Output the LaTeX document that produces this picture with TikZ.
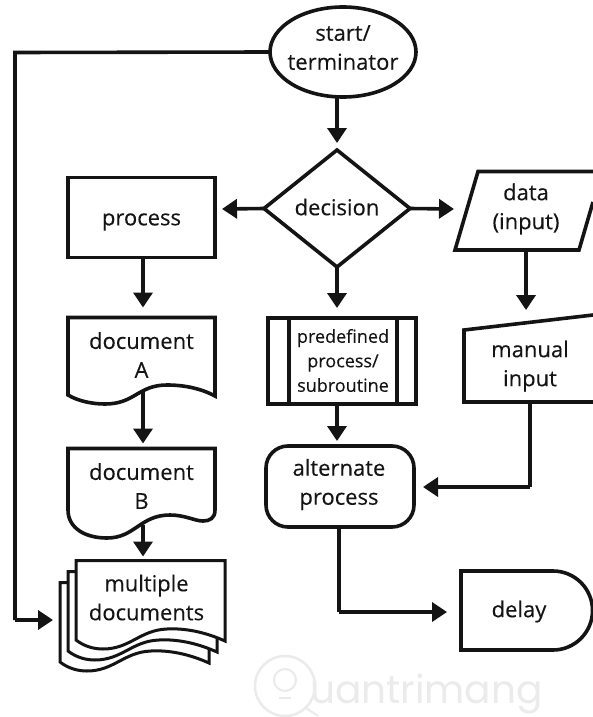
\documentclass[tikz,border=0pt]{standalone}
\usepackage{fontspec}
\setmainfont[FakeBold=0.2]{Open Sans}
\newfontfamily\wmfont{Poppins}
\usetikzlibrary{arrows.meta,shapes.geometric}
\definecolor{ink}{HTML}{141414}
\definecolor{wm}{HTML}{EBEBEB}
\tikzset{
  x=1pt,y=-1pt,
  line/.style={draw=ink,line width=3.6pt,line join=miter},
  flow/.style={line,-{Triangle[length=15pt,width=19pt]}},
  lbl/.style={text=ink,align=center,inner sep=0pt,outer sep=0pt,font=\fontsize{22}{29}\selectfont},
  boxn/.style={lbl,line,rectangle,fill=white},
  ghost/.style={lbl,rectangle,draw=none},
  small/.style={font=\fontsize{18}{24.5}\selectfont},
}
\begin{document}
\begin{tikzpicture}
\useasboundingbox (0,0) rectangle (593,717);
\fill[white] (0,0) rectangle (593,717);
% watermark
\draw[wm,line width=2.5pt] (285,686) circle (30);
\draw[wm,line width=2pt] (285,680) circle (11);
\draw[wm,line width=2pt] (279,698) -- (291,698);
\draw[wm,line width=2pt] (306,708) -- (318,716);
\node[anchor=base west,text=wm,inner sep=0pt,font=\wmfont\fontsize{39}{45}\selectfont] (wmark) at (310,703) {uantrimang};
% shapes
\node[lbl,line,ellipse,minimum width=146pt,minimum height=90pt] (start) at (343,52) {};
\node[lbl] (starttext) at (343,47.5) {start/\\terminator};
\node[lbl,line,diamond,minimum width=146pt,minimum height=117pt] (dec) at (337,208.5) {};
\node[lbl] (dectext) at (337,207) {decision};
\node[boxn,minimum width=147pt,minimum height=80pt] (proc) at (141.5,217.5) {};
\node[lbl] (proctext) at (141.5,222) {process};
\node[ghost,minimum width=124pt,minimum height=79pt] (data) at (526,209) {data\\(input)};
\draw[line] (593,202) -- (579,250) -- (455,250) -- (478,171.5) -- (593,171.5);
\node[ghost,minimum width=132pt,minimum height=82pt] (manual) at (530,366) {manual\\input};
\draw[line] (593,315) -- (464,330) -- (464,402) -- (593,402);
\node[boxn,minimum width=148pt,minimum height=86pt] (pre) at (342,361) {};
\draw[line] (289,318) -- (289,404) (397,318) -- (397,404);
\node[lbl,small] (pretext) at (343,360.5) {predefined\\process/\\subroutine};
\node[boxn,rounded corners=22pt,minimum width=148pt,minimum height=81pt] (alt) at (340,486.5) {};
\node[lbl] (alttext) at (339,484.5) {alternate\\process};
\node[ghost,minimum width=132pt,minimum height=79pt] (delay) at (519,611.5) {delay};
\draw[line] (553,571) -- (461,571) -- (461,650) -- (553,650) arc (90:-90:39.5 and 39.5) -- cycle;
% documents
\node[ghost,minimum width=147pt,minimum height=78pt] (doca) at (141.5,355) {document\\A};
\draw[line] (68,317.5) -- (215,317.5) -- (215,396) .. controls (200,388) and (183,385) .. (167,385) .. controls (138,385) and (135,404) .. (105,404) .. controls (92,404) and (78,401) .. (68,395) -- cycle;
\node[ghost,minimum width=147pt,minimum height=77pt] (docb) at (141.5,486) {document\\B};
\draw[line] (68,448.5) -- (215,448.5) -- (215,510) .. controls (215,518) and (210,521) .. (203,521) .. controls (195,521) and (185,515) .. (170,515) .. controls (140,515) and (135,538) .. (107,538) .. controls (85,538) and (68,528) .. (68,510) -- cycle;
\foreach \dx/\dy in {-16/22,-8/11,0/0}{
  \begin{scope}[shift={(\dx,\dy)}]
    \draw[line,fill=white,line width=3pt] (76,560.5) -- (225,560.5) -- (225,641) .. controls (205,632) and (185,628) .. (167,629) .. controls (140,630) and (130,649) .. (103,649) .. controls (95,649) and (85,647) .. (76,640) -- cycle;
  \end{scope}
}
\node[ghost,minimum width=149pt,minimum height=79pt] (multi) at (146.5,597.5) {multiple\\documents};
% connectors
\draw[flow,shorten >=7pt] (dec.north |- start.south) -- (dec.north);
\draw[flow] (dec.west) -- (222,209);
\draw[flow] (dec.east) -- (454,209);
\draw[flow,shorten >=10pt] (dec.south) -- (dec.south |- pre.north);
\draw[flow,shorten >=10pt] (143,257.5) -- (143,317.5);
\draw[flow,shorten >=5pt] (143,392) -- (143,448.5);
\draw[flow,shorten >=4pt] (143,525) -- (143,560.5);
\draw[flow,shorten >=10pt] (526,250) -- (526,320);
\draw[flow,shorten >=5pt] (337,404) -- (337,446);
\draw[line] (530,402) -- (530,487);
\draw[flow] (530,487) -- (423,487);
\draw[line] (339,527) -- (339,612);
\draw[flow] (339,612) -- (447,612);
\draw[line] (start.west) -- (15,52.5) -- (15,620);
\draw[flow] (15,620) -- (53,620);
\end{tikzpicture}
\end{document}
